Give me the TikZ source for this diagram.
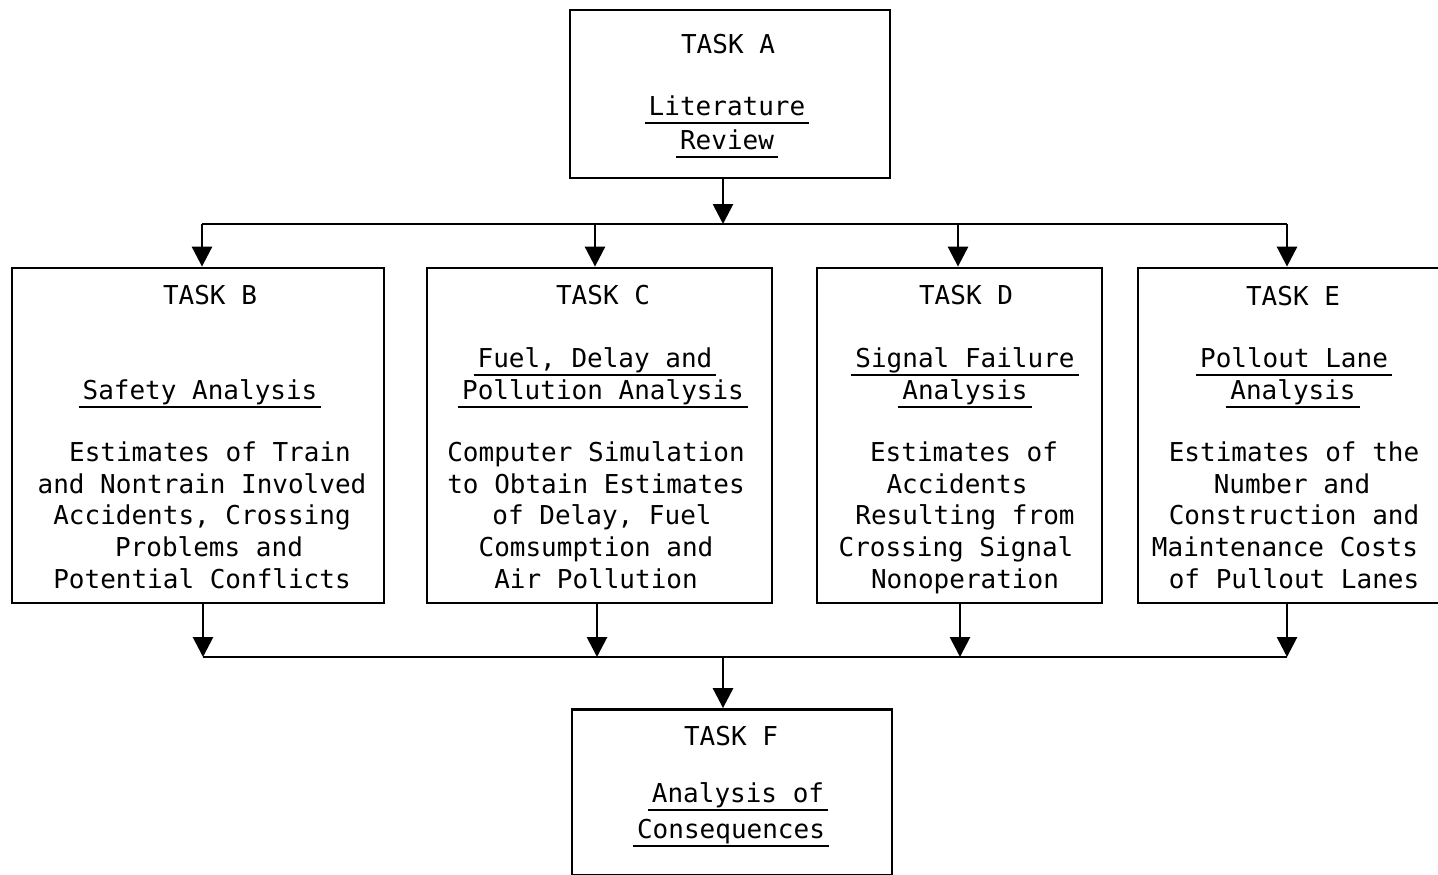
\documentclass[tikz,border=0pt]{standalone}
\usepackage{fontspec}
\newfontfamily\tw{DejaVu Sans Mono}
\usetikzlibrary{arrows.meta}

% underlined line: the rule sits a little below the baseline and overhangs the text
\newcommand\ulx[1]{\setbox0=\hbox{#1}\rlap{\kern-2pt\vrule width\dimexpr\wd0+4pt\relax height -3.4pt depth 4.6pt}\box0}

\tikzset{
  taskbox/.style={draw, rectangle, line width=1.4pt, inner sep=0pt},
  wire/.style={line width=1.4pt},
  flow/.style={line width=1.4pt, -{Triangle[width=10pt,length=10pt]}},
  txt/.style={anchor=base, inner sep=0pt, font=\tw\fontsize{13pt}{15pt}\selectfont},
}

\begin{document}
\begin{tikzpicture}[x=0.5pt, y=-0.5pt]
\useasboundingbox (0,0) rectangle (1438,874);
\clip (0,0) rectangle (1438,874);

% task boxes
\node[taskbox, minimum width=160pt, minimum height=84pt]    (A) at (730,94)    {};
\node[taskbox, minimum width=186pt, minimum height=167.5pt] (B) at (198,435.5) {};
\node[taskbox, minimum width=172.5pt, minimum height=167.5pt] (C) at (599.5,435.5) {};
\node[taskbox, minimum width=142.5pt, minimum height=167.5pt] (D) at (959.5,435.5) {};
\node[taskbox, minimum width=156pt, minimum height=167.5pt] (E) at (1294,435.5) {};
\node[taskbox, minimum width=160pt, minimum height=83pt]    (F) at (732,792.5) {};

% Task A
\node[txt] (a1) at (728,53)  {TASK A};
\node[txt] (a2) at (727,115) {\ulx{Literature}};
\node[txt] (a3) at (727,149) {\ulx{Review}};

% Task B
\node[txt] (b1) at (210,304) {TASK B};
\node[txt] (b2) at (200,399) {\ulx{Safety Analysis}};
\node[txt] (b3) at (210,461) {Estimates of Train};
\node[txt] (b4) at (202,493) {and Nontrain Involved};
\node[txt] (b5) at (202,524) {Accidents, Crossing};
\node[txt] (b6) at (209,556) {Problems and};
\node[txt] (b7) at (202,588) {Potential Conflicts};

% Task C
\node[txt] (c1) at (603,304) {TASK C};
\node[txt] (c2) at (595,367) {\ulx{Fuel, Delay and}};
\node[txt] (c3) at (603,399) {\ulx{Pollution Analysis}};
\node[txt] (c4) at (596,461) {Computer Simulation};
\node[txt] (c5) at (596,493) {to Obtain Estimates};
\node[txt] (c6) at (602,524) {of Delay, Fuel};
\node[txt] (c7) at (596,556) {Comsumption and};
\node[txt] (c8) at (596,588) {Air Pollution};

% Task D
\node[txt] (d1) at (966,304) {TASK D};
\node[txt] (d2) at (965,367) {\ulx{Signal Failure}};
\node[txt] (d3) at (965,399) {\ulx{Analysis}};
\node[txt] (d4) at (964,461) {Estimates of};
\node[txt] (d5) at (957,493) {Accidents};
\node[txt] (d6) at (965,524) {Resulting from};
\node[txt] (d7) at (956,556) {Crossing Signal};
\node[txt] (d8) at (965,588) {Nonoperation};

% Task E
\node[txt] (e1) at (1293,305) {TASK E};
\node[txt] (e2) at (1294,367) {\ulx{Pollout Lane}};
\node[txt] (e3) at (1293,399) {\ulx{Analysis}};
\node[txt] (e4) at (1294,461) {Estimates of the};
\node[txt] (e5) at (1292,493) {Number and};
\node[txt] (e6) at (1294,524) {Construction and};
\node[txt] (e7) at (1285,556) {Maintenance Costs};
\node[txt] (e8) at (1294,588) {of Pullout Lanes};

% Task F
\node[txt] (f1) at (731,745) {TASK F};
\node[txt] (f2) at (738,802) {\ulx{Analysis of}};
\node[txt] (f3) at (731,838) {\ulx{Consequences}};

% distribution bus below Task A
\coordinate (ta) at (723,224);
\coordinate (tB) at (202,224);
\coordinate (tC) at (595,224);
\coordinate (tD) at (958,224);
\coordinate (tE) at (1287,224);
\draw[flow] (A.south -| ta) -- (ta);
\draw[wire] (tB) -- (tE);
\draw[flow] (tB) -- (tB |- B.north);
\draw[flow] (tC) -- (tC |- C.north);
\draw[flow] (tD) -- (tD |- D.north);
\draw[flow] (tE) -- (tE |- E.north);

% collecting bus above Task F
\coordinate (bf) at (723,657);
\coordinate (bB) at (203,657);
\coordinate (bC) at (597,657);
\coordinate (bD) at (960,657);
\coordinate (bE) at (1287,657);
\draw[flow] (B.south -| bB) -- (bB);
\draw[flow] (C.south -| bC) -- (bC);
\draw[flow] (D.south -| bD) -- (bD);
\draw[flow] (E.south -| bE) -- (bE);
\draw[wire] (bB) -- (bE);
\draw[flow] (bf) -- (bf |- F.north);
\end{tikzpicture}
\end{document}
